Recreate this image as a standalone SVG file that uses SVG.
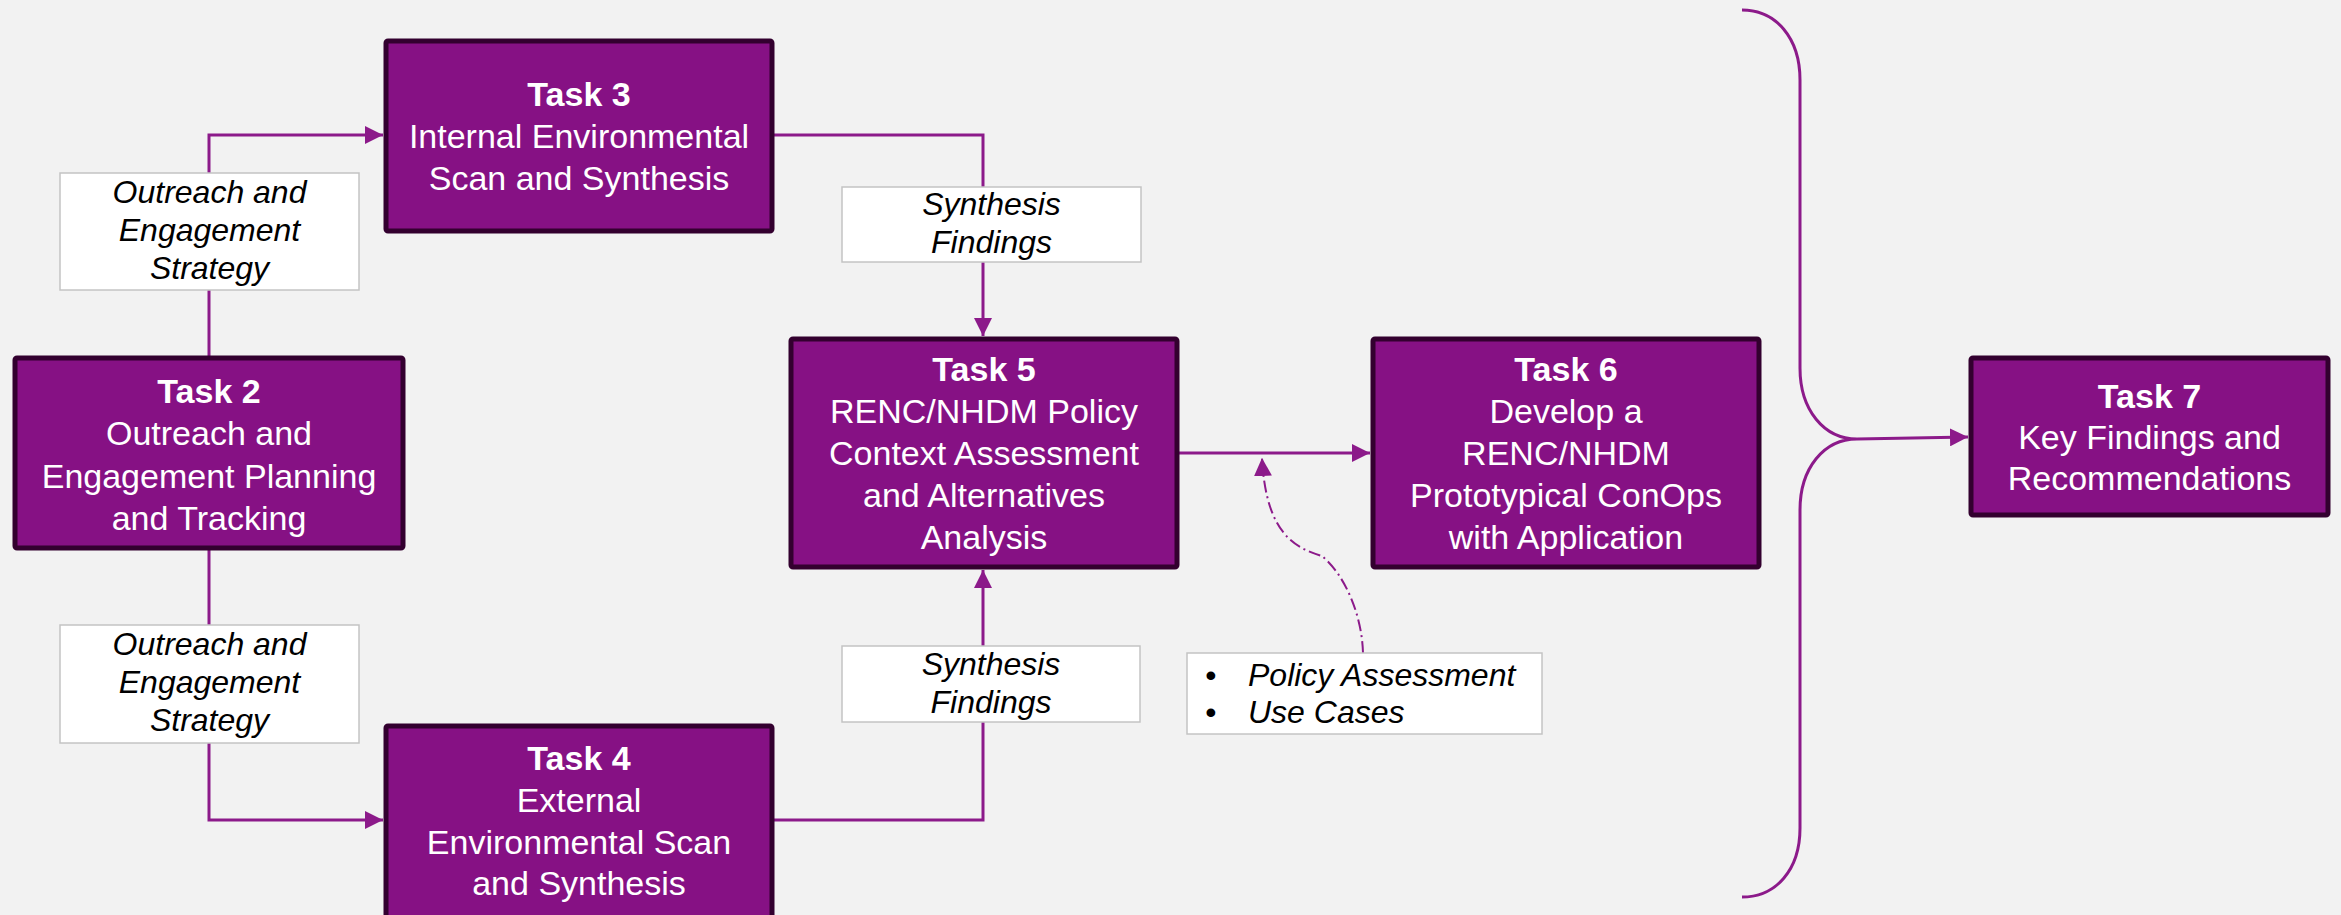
<svg xmlns="http://www.w3.org/2000/svg" width="2341" height="915" viewBox="0 0 2341 915">
<defs>
<style>
.node{fill:#861184;stroke:#33002F;stroke-width:5}
.nt{font-family:"Liberation Sans",Arial,sans-serif;font-size:34px;fill:#ffffff;text-anchor:middle}
.nt .b{font-weight:bold}
.lab{fill:#ffffff;stroke:#c4c4c4;stroke-width:1.5}
.lt{font-family:"Liberation Sans",Arial,sans-serif;font-size:32px;font-style:italic;fill:#000000;text-anchor:middle}
.bt{font-family:"Liberation Sans",Arial,sans-serif;font-size:32px;font-style:italic;fill:#000000}
.con{fill:none;stroke:#8C1A8A;stroke-width:3}
.dd{fill:none;stroke:#8C1A8A;stroke-width:2;stroke-dasharray:12 4 2 4}
</style>
<marker id="arr" markerUnits="userSpaceOnUse" markerWidth="20" markerHeight="18" refX="18" refY="9" orient="auto">
<path d="M0,0 L18,9 L0,18 Z" fill="#8C1A8A"/>
</marker>
</defs>
<rect x="0" y="0" width="2341" height="915" fill="#F2F2F2"/>

<g id="connectors">
<path class="con" d="M209,356 V135 H383" marker-end="url(#arr)"/>
<path class="con" d="M209,550 V820 H383" marker-end="url(#arr)"/>
<path class="con" d="M774,135 H983 V336" marker-end="url(#arr)"/>
<path class="con" d="M774,820 H983 V570" marker-end="url(#arr)"/>
<path class="con" d="M1179,453 H1370" marker-end="url(#arr)"/>
<path class="dd" d="M1363,653 C1362,615 1345,575 1322,556 C1296,548 1266,535 1262,458" marker-end="url(#arr)"/>
<path class="con" d="M1742,10 C1776,10 1800,38 1800,80 L1800,368 C1800,410 1824,439 1857,439 C1824,439 1800,468 1800,510 L1800,828 C1800,870 1776,897 1742,897"/>
<path class="con" d="M1857,439 L1968,437" marker-end="url(#arr)"/>
</g>

<g id="label-outreach-top">
<rect class="lab" x="60" y="173" width="299" height="117"/>
<text class="lt" x="209.5" y="203">Outreach and</text>
<text class="lt" x="209.5" y="241">Engagement</text>
<text class="lt" x="209.5" y="279">Strategy</text>
</g>
<g id="label-outreach-bottom">
<rect class="lab" x="60" y="625" width="299" height="118"/>
<text class="lt" x="209.5" y="655">Outreach and</text>
<text class="lt" x="209.5" y="693">Engagement</text>
<text class="lt" x="209.5" y="731">Strategy</text>
</g>
<g id="label-synthesis-top">
<rect class="lab" x="842" y="187" width="299" height="75"/>
<text class="lt" x="991.5" y="215">Synthesis</text>
<text class="lt" x="991.5" y="253">Findings</text>
</g>
<g id="label-synthesis-bottom">
<rect class="lab" x="842" y="646" width="298" height="76"/>
<text class="lt" x="991" y="675">Synthesis</text>
<text class="lt" x="991" y="713">Findings</text>
</g>
<g id="label-bullets">
<rect class="lab" x="1187" y="653" width="355" height="81"/>
<text class="bt" x="1205" y="686">•</text>
<text class="bt" x="1248" y="686">Policy Assessment</text>
<text class="bt" x="1205" y="723">•</text>
<text class="bt" x="1248" y="723">Use Cases</text>
</g>

<g id="task2">
<rect class="node" x="15" y="358" width="388" height="190" rx="2"/>
<text class="nt"><tspan class="b" x="209" y="403">Task 2</tspan><tspan x="209" y="445">Outreach and</tspan><tspan x="209" y="488">Engagement Planning</tspan><tspan x="209" y="530">and Tracking</tspan></text>
</g>
<g id="task3">
<rect class="node" x="386" y="41" width="386" height="190" rx="2"/>
<text class="nt"><tspan class="b" x="579" y="106">Task 3</tspan><tspan x="579" y="148">Internal Environmental</tspan><tspan x="579" y="190">Scan and Synthesis</tspan></text>
</g>
<g id="task4">
<rect class="node" x="386" y="726" width="386" height="210" rx="2"/>
<text class="nt"><tspan class="b" x="579" y="770">Task 4</tspan><tspan x="579" y="812">External</tspan><tspan x="579" y="854">Environmental Scan</tspan><tspan x="579" y="895">and Synthesis</tspan></text>
</g>
<g id="task5">
<rect class="node" x="791" y="339" width="386" height="228" rx="2"/>
<text class="nt"><tspan class="b" x="984" y="381">Task 5</tspan><tspan x="984" y="423">RENC/NHDM Policy</tspan><tspan x="984" y="465">Context Assessment</tspan><tspan x="984" y="507">and Alternatives</tspan><tspan x="984" y="549">Analysis</tspan></text>
</g>
<g id="task6">
<rect class="node" x="1373" y="339" width="386" height="228" rx="2"/>
<text class="nt"><tspan class="b" x="1566" y="381">Task 6</tspan><tspan x="1566" y="423">Develop a</tspan><tspan x="1566" y="465">RENC/NHDM</tspan><tspan x="1566" y="507">Prototypical ConOps</tspan><tspan x="1566" y="549">with Application</tspan></text>
</g>
<g id="task7">
<rect class="node" x="1971" y="358" width="357" height="157" rx="2"/>
<text class="nt"><tspan class="b" x="2149.5" y="408">Task 7</tspan><tspan x="2149.5" y="449">Key Findings and</tspan><tspan x="2149.5" y="490">Recommendations</tspan></text>
</g>
</svg>
